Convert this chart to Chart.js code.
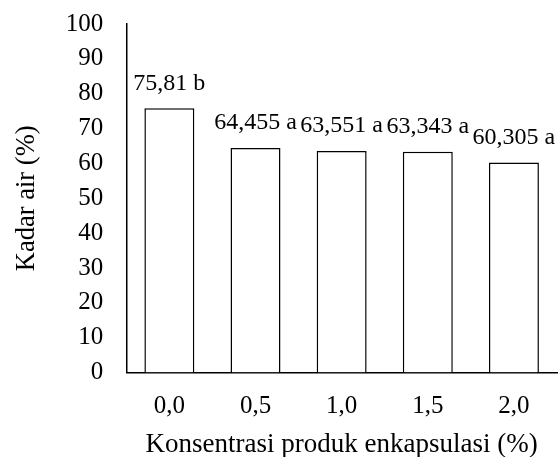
<!DOCTYPE html>
<html>
<head>
<meta charset="utf-8">
<script src="https://cdn.jsdelivr.net/npm/chart.js@4/dist/chart.umd.min.js"></script>
<style>
    html, body { margin: 0; padding: 0; background: #fff; }
    #wrap { width: 558px; height: 457px; }
</style>
</head>
<body>
<div id="wrap"><canvas id="chart"></canvas></div>
<script>
// Data
const categories = ['0,0', '0,5', '1,0', '1,5', '2,0'];
const moisture = [75.81, 64.455, 63.551, 63.343, 60.305];
const notation = ['b', 'a', 'a', 'a', 'a'];
const yTicks = [0, 10, 20, 30, 40, 50, 60, 70, 80, 90, 100];

const FONT = "'Liberation Serif', 'Times New Roman', serif";

// Draw value + letter above each bar
const barLabels = {
    id: 'barLabels',
    afterDatasetsDraw(chart) {
        const ctx = chart.ctx;
        const meta = chart.getDatasetMeta(0);
        ctx.save();
        ctx.font = '24px ' + FONT;
        ctx.fillStyle = '#000';
        ctx.textAlign = 'center';
        ctx.textBaseline = 'middle';
        meta.data.forEach((bar, i) => {
            const text = String(moisture[i]).replace('.', ',') + ' ' + notation[i];
            ctx.fillText(text, bar.x, bar.y - 25);
        });
        ctx.restore();
    }
};

new Chart(document.getElementById('chart'), {
    type: 'bar',
    data: {
        labels: categories,
        datasets: [{
            data: moisture,
            backgroundColor: '#ffffff',
            borderColor: '#000000',
            borderWidth: 1.5,
            categoryPercentage: 0.58,
            barPercentage: 1
        }]
    },
    options: {
        responsive: true,
        maintainAspectRatio: false,
        animation: false,
        layout: { padding: { top: 0, right: 1, left: 4, bottom: 0 } },
        plugins: {
            legend: { display: false },
            tooltip: { enabled: false }
        },
        scales: {
            x: {
                grid: { display: false, drawTicks: false },
                border: { display: true, color: '#000', width: 1.5 },
                ticks: { color: '#000', font: { family: FONT, size: 25 }, padding: 19 },
                title: {
                    display: true,
                    text: 'Konsentrasi produk enkapsulasi (%)',
                    color: '#000',
                    font: { family: FONT, size: 27 },
                    padding: { top: -12, bottom: -4 }
                }
            },
            y: {
                min: 0,
                max: 100,
                afterBuildTicks(axis) {
                    axis.ticks = yTicks.map(v => ({ value: v }));
                },
                // keep the top of the axis close to the canvas edge
                afterFit(axis) {
                    axis.paddingTop = 24;
                },
                grid: { display: false, drawTicks: false },
                border: { display: true, color: '#000', width: 1.5 },
                ticks: { color: '#000', font: { family: FONT, size: 25 }, padding: 23, autoSkip: false },
                title: {
                    display: true,
                    text: 'Kadar air (%)',
                    color: '#000',
                    font: { family: FONT, size: 26.5 },
                    padding: { top: 7, bottom: 0 }
                }
            }
        }
    },
    plugins: [barLabels]
});
</script>
</body>
</html>
